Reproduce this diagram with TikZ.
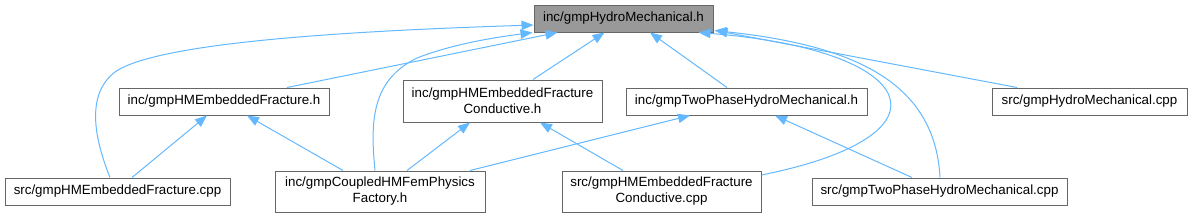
\documentclass[tikz,border=0pt]{standalone}
\usepackage{fontspec}
\setmainfont{Liberation Sans}
\usetikzlibrary{arrows.meta,calc}
\definecolor{edgec}{HTML}{63B8FF}
\definecolor{boxc}{HTML}{666666}
\definecolor{curfill}{HTML}{999999}
\begin{document}
\begin{tikzpicture}[x=0.75pt,y=-0.75pt,
  box/.style 2 args={draw=boxc, line width=0.75pt, fill=white,
    minimum width=#1*0.75pt, minimum height=#2*0.75pt, inner sep=0pt,
    align=center, font=\fontsize{10}{12}\selectfont},
  curbox/.style={fill=curfill},
  edge/.style={draw=edgec, line width=0.75pt, -{Triangle[length=9pt,width=7pt]}}]
\useasboundingbox (0,0) rectangle (1192,219);

\node[box={179}{27}, curbox] (top) at (623.5,18.5) {inc/gmpHydroMechanical.h};
\node[box={210}{27}] (hmefh) at (224,101.5) {inc/gmpHMEmbeddedFracture.h};
\node[box={199}{42}] (hmefch) at (502.5,101) {inc/gmpHMEmbeddedFracture\\Conductive.h};
\node[box={241}{27}] (tph) at (746.5,101.5) {inc/gmpTwoPhaseHydroMechanical.h};
\node[box={195}{27}] (hmcpp) at (1089.5,101.5) {src/gmpHydroMechanical.cpp};
\node[box={225}{27}] (hmefcpp) at (117.5,191.5) {src/gmpHMEmbeddedFracture.cpp};
\node[box={210}{41}] (coupled) at (380,191.5) {inc/gmpCoupledHMFemPhysics\\Factory.h};
\node[box={199}{41}] (hmefccpp) at (661.5,191.5) {src/gmpHMEmbeddedFracture\\Conductive.cpp};
\node[box={255}{27}] (tpcpp) at (939.5,191.5) {src/gmpTwoPhaseHydroMechanical.cpp};

\draw[edge] ($(hmefh.north)+(63,0)$) -- ($(top.south)+(-66,0)$);
\draw[edge] ($(hmefcpp.north)+(-7.5,0)$) .. controls (95,140) and (85,95) .. (115,72)
  .. controls (160,40) and (380,30) .. ($(top.west)+(0,6.5)$);
\draw[edge] ($(hmefcpp.north)+(14.5,0)$) -- ($(hmefh.south)+(-17,0)$);
\draw[edge] ($(coupled.north)+(-37,0)$) -- ($(hmefh.south)+(23,0)$);
\draw[edge] ($(coupled.north)+(-5,0)$) .. controls (370,120) and (372,80) .. (417,58)
  .. controls (450,45) and (490,38) .. ($(top.south west)+(-1,0)$);
\draw[edge] ($(hmefch.north)+(30.5,0)$) -- ($(top.south)+(-19,0)$);
\draw[edge] ($(coupled.north)+(27,0)$) -- ($(hmefch.south)+(-32.5,0)$);
\draw[edge] ($(hmefccpp.north)+(-38.5,0)$) -- ($(hmefch.south)+(37.5,0)$);
\draw[edge] ($(tph.north)+(-19.5,0)$) -- ($(top.south)+(26.5,0)$);
\draw[edge] ($(coupled.north)+(90,0)$) -- ($(tph.south)+(-56.5,0)$);
\draw[edge] ($(tpcpp.north)+(-27.5,0)$) -- ($(tph.south)+(28.5,0)$);
\draw[edge] ($(hmcpp.north)+(-72.5,0)$) -- ($(top.south east)+(2,-2)$);
\draw[edge] ($(hmefccpp.east)+(0,-16.5)$) .. controls (960,135) and (920,50) .. ($(top.south east)+(-15,0)$);
\draw[edge] ($(tpcpp.north)+(0.5,0)$) .. controls (935,80) and (850,45) .. ($(top.south east)+(1,-2)$);
\end{tikzpicture}
\end{document}
